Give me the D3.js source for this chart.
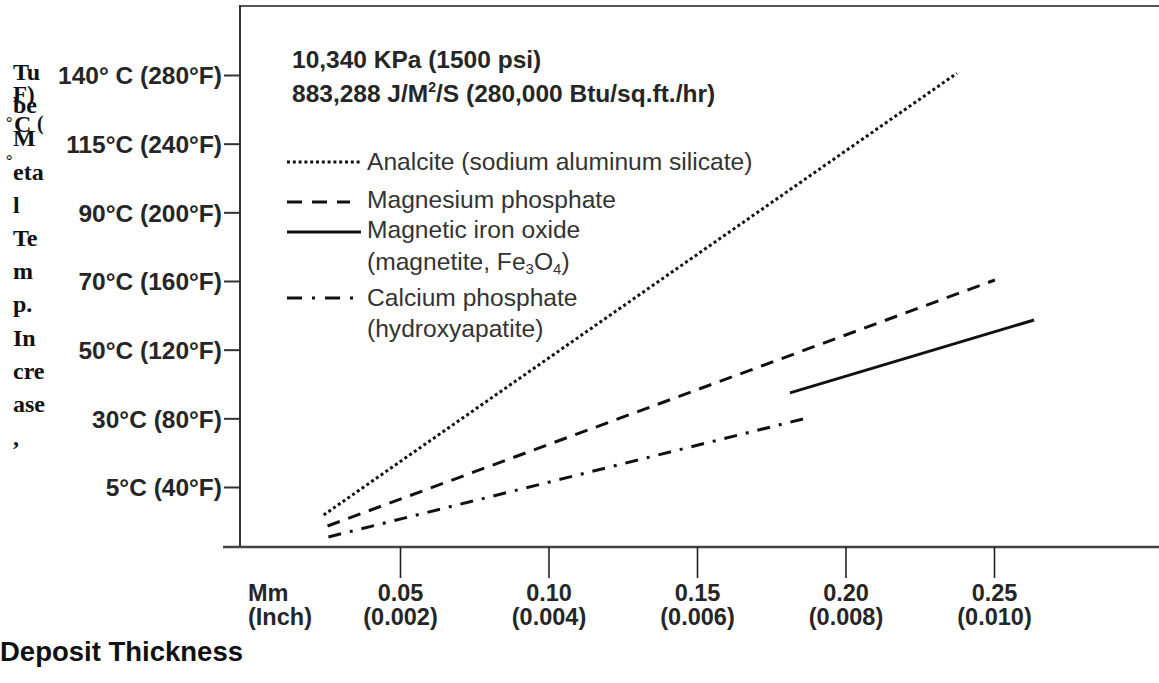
<!DOCTYPE html>
<html><head><meta charset="utf-8">
<script src="https://cdn.jsdelivr.net/npm/d3@7"></script>
<style>
html,body{margin:0;padding:0;background:#fff;}
svg{display:block;}
</style></head>
<body>
<svg id="c" width="1159" height="683"></svg>
<script>
// ---- data ----
const xTickMm = [0.05, 0.10, 0.15, 0.20, 0.25];
const xTickMmLabels = ["0.05", "0.10", "0.15", "0.20", "0.25"];
const xTickInchLabels = ["(0.002)", "(0.004)", "(0.006)", "(0.008)", "(0.010)"];
const yTickF = [280, 240, 200, 160, 120, 80, 40];
const yTickC = ["140° C", "115°C", "90°C", "70°C", "50°C", "30°C", "5°C"];
const yTickFLabels = ["(280°F)", "(240°F)", "(200°F)", "(160°F)", "(120°F)", "(80°F)", "(40°F)"];
const seriesNames = ["Analcite (sodium aluminum silicate)", "Magnesium phosphate", "Magnetic iron oxide", "Calcium phosphate"];
const analcite = [[0.0243, 23.7], [0.2375, 281]];
const magnesiumPhosphate = [[0.0256, 17.3], [0.2503, 160.6]];
const magnetite = [[0.1813, 94.8], [0.2635, 137.3]];
const calciumPhosphate = [[0.0259, 10.9], [0.1884, 80.8]];
const yTitleLines = ["Tu", "be", "M", "eta", "l", "Te", "m", "p.", "In", "cre", "ase", ","];

// ---- layout ----
const svg = d3.select("#c");
const plot = {left: 240, top: 6, right: 1159, bottom: 547};
const x = d3.scaleLinear().domain([0.05, 0.25]).range([400, 994]);
const y = d3.scaleLinear().domain([40, 280]).range([487, 75]);
const ink = "#111";
const textCol = "#262626";
const sans = "'Liberation Sans', Arial, sans-serif";

// frame
svg.append("line").attr("x1", plot.left).attr("x2", plot.right + 2).attr("y1", plot.top).attr("y2", plot.top)
  .attr("stroke", "#555").attr("stroke-width", 2.2);
svg.append("line").attr("x1", plot.left).attr("x2", plot.left).attr("y1", plot.top - 1).attr("y2", plot.bottom)
  .attr("stroke", "#333").attr("stroke-width", 2);
svg.append("line").attr("x1", 223).attr("x2", plot.right + 2).attr("y1", plot.bottom).attr("y2", plot.bottom)
  .attr("stroke", "#444").attr("stroke-width", 2.6);

// x axis ticks
const xAxis = d3.axisBottom(x).tickValues(xTickMm).tickSize(31).tickSizeOuter(0).tickFormat("");
const gx = svg.append("g").attr("transform", `translate(0,${plot.bottom})`).call(xAxis);
gx.select(".domain").remove();
gx.selectAll(".tick line").attr("stroke", "#222").attr("stroke-width", 1.6);
gx.selectAll(".tick").append("text").attr("y", 54).attr("fill", textCol).attr("text-anchor", "middle")
  .attr("font-family", sans).attr("font-weight", "bold").attr("font-size", 23.5)
  .text((d, i) => xTickMmLabels[i]);
gx.selectAll(".tick").append("text").attr("y", 78).attr("fill", textCol).attr("text-anchor", "middle")
  .attr("font-family", sans).attr("font-weight", "bold").attr("font-size", 23.5)
  .text((d, i) => xTickInchLabels[i]);
svg.append("text").attr("x", 248).attr("y", 601).attr("font-family", sans).attr("font-weight", "bold")
  .attr("font-size", 23.5).attr("fill", textCol).text("Mm");
svg.append("text").attr("x", 248).attr("y", 625).attr("font-family", sans).attr("font-weight", "bold")
  .attr("font-size", 23.5).attr("fill", textCol).text("(Inch)");
svg.append("text").attr("x", 0).attr("y", 661).attr("font-family", sans).attr("font-weight", "bold")
  .attr("font-size", 27.5).attr("fill", "#111").text("Deposit Thickness");

// y axis ticks
const yAxis = d3.axisLeft(y).tickValues(yTickF).tickSize(16).tickSizeOuter(0).tickFormat("");
const gy = svg.append("g").attr("transform", `translate(${plot.left},0)`).call(yAxis);
gy.select(".domain").remove();
gy.selectAll(".tick line").attr("stroke", "#333").attr("stroke-width", 2);
gy.selectAll(".tick").append("text").attr("x", -18).attr("dy", "0.36em").attr("text-anchor", "end")
  .attr("fill", textCol).attr("font-family", sans).attr("font-size", 24.5).attr("font-weight", "bold")
  .text((d, i) => yTickC[i] + " " + yTickFLabels[i]);

// y title (broken column rendering)
const serif = "'Liberation Serif', 'Times New Roman', serif";
svg.append("g").selectAll("text").data(yTitleLines).join("text")
  .attr("x", 13).attr("y", (d, i) => 80 + i * 33.2)
  .attr("font-family", serif).attr("font-weight", "bold").attr("font-size", 24).attr("fill", "#111")
  .text(d => d);
svg.append("text").attr("x", 13).attr("y", 102).attr("font-family", serif).attr("font-weight", "bold")
  .attr("font-size", 23).attr("fill", "#111").text("F)");
svg.append("text").attr("x", 14).attr("y", 132).attr("font-family", serif).attr("font-weight", "bold")
  .attr("font-size", 24).attr("fill", "#111").text("C");
svg.append("text").attr("x", 37).attr("y", 130).attr("font-family", serif).attr("font-weight", "bold")
  .attr("font-size", 20).attr("fill", "#111").text("(");
svg.append("text").attr("x", 6).attr("y", 128).attr("font-family", serif).attr("font-weight", "bold")
  .attr("font-size", 16).attr("fill", "#111").text("°");
svg.append("text").attr("x", 6).attr("y", 166).attr("font-family", serif).attr("font-weight", "bold")
  .attr("font-size", 16).attr("fill", "#111").text("°");

// header
svg.append("text").attr("x", 292).attr("y", 68).attr("font-family", sans).attr("font-weight", "bold")
  .attr("font-size", 24.5).attr("fill", textCol).text("10,340 KPa (1500 psi)");
const h2 = svg.append("text").attr("x", 292).attr("y", 102).attr("font-family", sans).attr("font-weight", "bold")
  .attr("font-size", 24.5).attr("fill", textCol);
h2.append("tspan").text("883,288 J/M");
h2.append("tspan").attr("font-size", 14).attr("dy", -10).text("2");
h2.append("tspan").attr("dy", 10).text("/S (280,000 Btu/sq.ft./hr)");

// series
const styles = [
  {data: analcite, dash: "3 2.8", w: 3},
  {data: magnesiumPhosphate, dash: "13 9", w: 3},
  {data: magnetite, dash: null, w: 3},
  {data: calciumPhosphate, dash: "13 9 3 9", w: 3}
];
const line = d3.line().x(d => x(d[0])).y(d => y(d[1]));
svg.append("g").selectAll("path").data(styles).join("path")
  .attr("d", s => line(s.data)).attr("fill", "none").attr("stroke", ink)
  .attr("stroke-width", s => s.w).attr("stroke-dasharray", s => s.dash);

// legend
const leg = svg.append("g");
const legRows = [
  {y: 162, base: 170, dash: "3 2.8", w: 3, x2: 361},
  {y: 202, base: 208, dash: "15 10", w: 3, x2: 350},
  {y: 232, base: 238, dash: null, w: 3, x2: 361},
  {y: 298, base: 306, dash: "15 10 3 10", w: 3, x2: 355}
];
leg.selectAll("line").data(legRows).join("line")
  .attr("x1", 287).attr("x2", d => d.x2).attr("y1", d => d.y).attr("y2", d => d.y)
  .attr("stroke", ink).attr("stroke-width", d => d.w).attr("stroke-dasharray", d => d.dash);
const legFont = 24.6;
const legCol = "#333";
leg.selectAll("text.name").data(legRows).join("text").attr("class", "name")
  .attr("x", 367).attr("y", d => d.base).attr("font-family", sans).attr("font-size", legFont).attr("fill", legCol)
  .text((d, i) => seriesNames[i]);
const sub1 = leg.append("text").attr("x", 367).attr("y", 270).attr("font-family", sans).attr("font-size", legFont).attr("fill", legCol);
sub1.append("tspan").text("(magnetite, Fe");
sub1.append("tspan").attr("font-size", 15).attr("dy", 4).text("3");
sub1.append("tspan").attr("dy", -4).text("O");
sub1.append("tspan").attr("font-size", 15).attr("dy", 4).text("4");
sub1.append("tspan").attr("dy", -4).text(")");
leg.append("text").attr("x", 367).attr("y", 337).attr("font-family", sans).attr("font-size", legFont).attr("fill", legCol)
  .text("(hydroxyapatite)");
</script>
</body></html>
